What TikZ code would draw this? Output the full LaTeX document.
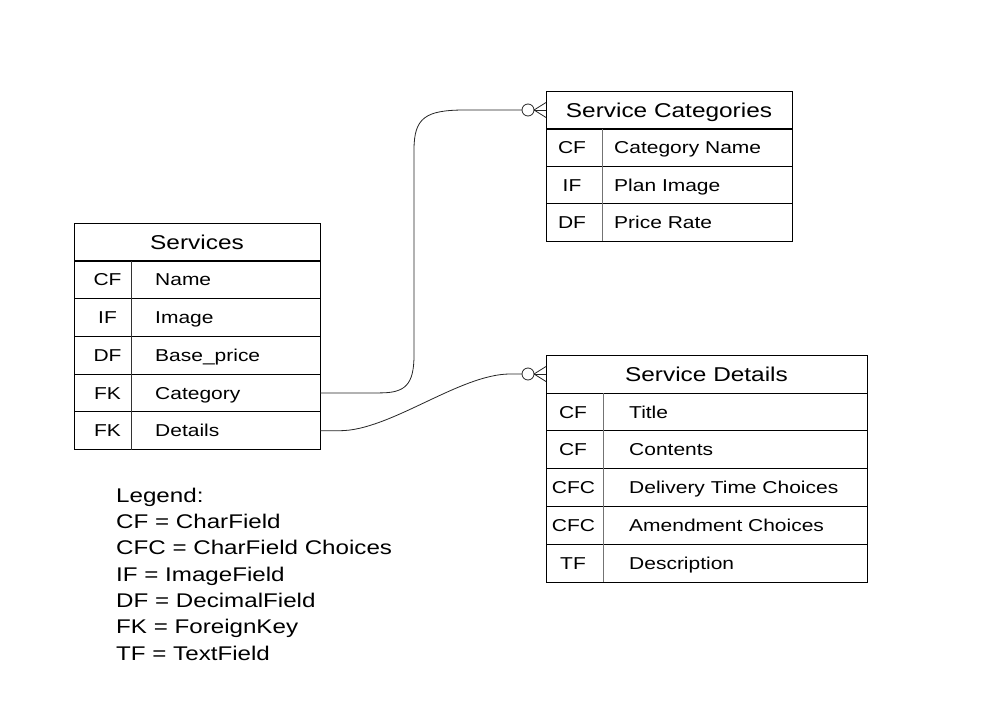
\documentclass[tikz,border=0pt]{standalone}
\usepackage{fontspec}
\setmainfont[FakeStretch=1.22]{Liberation Sans}
\usetikzlibrary{calc}
\tikzset{
  tbl/.style={draw=black, line width=1pt, inner sep=0pt, outer sep=0pt},
  hdr/.style={tbl, font=\fontsize{20}{21}\selectfont, text height=14.3pt, text depth=0pt},
  abbr/.style={inner sep=0pt, font=\fontsize{17.2}{18}\selectfont, text height=12.3pt, text depth=0pt, anchor=center},
  fld/.style={inner sep=0pt, font=\fontsize{17.2}{18}\selectfont, text height=12.3pt, text depth=0pt, anchor=west},
  leg/.style={inner sep=0pt, font=\fontsize{19.8}{21}\selectfont, anchor=base west},
  divl/.style={line width=1pt, draw=black!80},
  divg/.style={line width=1pt, draw=black!55},
  conn/.style={line width=0.8pt, draw=black!85},
  crowc/.style={circle, draw=black!85, line width=0.8pt, minimum size=12pt, inner sep=0pt, outer sep=0pt}
}
\begin{document}
\begin{tikzpicture}[x=1pt,y=-1pt]
\fill[white] (0,0) rectangle (1003,717);
\useasboundingbox (0,0) rectangle (1003,717);

% ---------- Services ----------
\node[hdr, minimum width=246pt, minimum height=38pt] (sH) at (197,242) {Services};
\node[tbl, minimum width=246pt, minimum height=37.8pt] (s1) at (197,279.5) {};
\node[tbl, minimum width=246pt, minimum height=37.8pt] (s2) at (197,317.3) {};
\node[tbl, minimum width=246pt, minimum height=37.8pt] (s3) at (197,355.1) {};
\node[tbl, minimum width=246pt, minimum height=37.8pt] (s4) at (197,392.9) {};
\node[tbl, minimum width=246pt, minimum height=37.8pt] (s5) at (197,430.7) {};
\draw[divl] ($(sH.south west)+(57,0)$) coordinate (sdt) -- ($(s5.south west)+(57,0)$) coordinate (sdb);
\node[abbr] (s1a) at (107.5,279.5) {CF};
\node[abbr] (s2a) at (107.5,317.3) {IF};
\node[abbr] (s3a) at (107.5,355.1) {DF};
\node[abbr] (s4a) at (107.5,392.9) {FK};
\node[abbr] (s5a) at (107.5,430.7) {FK};
\node[fld] (s1f) at (155,279.5) {Name};
\node[fld] (s2f) at (155,317.3) {Image};
\node[fld] (s3f) at (155,355.1) {Base\_price};
\node[fld] (s4f) at (155,392.9) {Category};
\node[fld] (s5f) at (155,430.7) {Details};

% ---------- Service Categories ----------
\node[hdr, minimum width=246pt, minimum height=38pt] (cH) at (669,110) {Service Categories};
\node[tbl, minimum width=246pt, minimum height=37.5pt] (c1) at (669,147.5) {};
\node[tbl, minimum width=246pt, minimum height=37.5pt] (c2) at (669,185) {};
\node[tbl, minimum width=246pt, minimum height=37.5pt] (c3) at (669,222.5) {};
\draw[divg] ($(cH.south west)+(56,0)$) coordinate (cdt) -- ($(c3.south west)+(56,0)$) coordinate (cdb);
\node[abbr] (c1a) at (572,147.5) {CF};
\node[abbr] (c2a) at (572,185) {IF};
\node[abbr] (c3a) at (572,222.5) {DF};
\node[fld] (c1f) at (614,147.5) {Category Name};
\node[fld] (c2f) at (614,185) {Plan Image};
\node[fld] (c3f) at (614,222.5) {Price Rate};

% ---------- Service Details ----------
\node[hdr, minimum width=321pt, minimum height=38pt] (dH) at (706.5,374) {Service Details};
\node[tbl, minimum width=321pt, minimum height=37.8pt] (d1) at (706.5,411.9) {};
\node[tbl, minimum width=321pt, minimum height=37.8pt] (d2) at (706.5,449.7) {};
\node[tbl, minimum width=321pt, minimum height=37.8pt] (d3) at (706.5,487.5) {};
\node[tbl, minimum width=321pt, minimum height=37.8pt] (d4) at (706.5,525.3) {};
\node[tbl, minimum width=321pt, minimum height=37.8pt] (d5) at (706.5,563.1) {};
\draw[divg] ($(dH.south west)+(57,0)$) coordinate (ddt) -- ($(d5.south west)+(57,0)$) coordinate (ddb);
\node[abbr] (d1a) at (573,411.9) {CF};
\node[abbr] (d2a) at (573,449.7) {CF};
\node[abbr] (d3a) at (573.5,487.5) {CFC};
\node[abbr] (d4a) at (573.5,525.3) {CFC};
\node[abbr] (d5a) at (573,563.1) {TF};
\node[fld] (d1f) at (629,411.9) {Title};
\node[fld] (d2f) at (629,449.7) {Contents};
\node[fld] (d3f) at (629,487.5) {Delivery Time Choices};
\node[fld] (d4f) at (629,525.3) {Amendment Choices};
\node[fld] (d5f) at (629,563.1) {Description};

% ---------- Connectors ----------
\node[crowc] (oc) at ($(cH.west)+(-18,0)$) {};
\node[crowc] (od) at ($(dH.west)+(-18,0)$) {};

\draw[conn] (s4.east) -- (380,392.9)
  .. controls (405,392.9) and (414,385) .. (414,355)
  -- (414,150)
  .. controls (414,118) and (425,110) .. (465,110)
  -- (oc.west);
\draw[conn] (oc.east) -- ($(cH.west)+(0,-7.5)$);
\draw[conn] (oc.east) -- (cH.west);
\draw[conn] (oc.east) -- ($(cH.west)+(0,7.5)$);

\draw[conn] (s5.east) -- (340,430.7)
  .. controls (390,430.7) and (460,374) .. (510,374)
  -- (od.west);
\draw[conn] (od.east) -- ($(dH.west)+(0,-7.5)$);
\draw[conn] (od.east) -- (dH.west);
\draw[conn] (od.east) -- ($(dH.west)+(0,7.5)$);

% ---------- Legend ----------
\node[leg] (l0) at (116,502) {Legend:};
\node[leg] (l1) at (116,528.3) {CF = CharField};
\node[leg] (l2) at (116,554.7) {CFC = CharField Choices};
\node[leg] (l3) at (116,581) {IF = ImageField};
\node[leg] (l4) at (116,607.3) {DF = DecimalField};
\node[leg] (l5) at (116,633.7) {FK = ForeignKey};
\node[leg] (l6) at (116,660) {TF = TextField};
\end{tikzpicture}
\end{document}
